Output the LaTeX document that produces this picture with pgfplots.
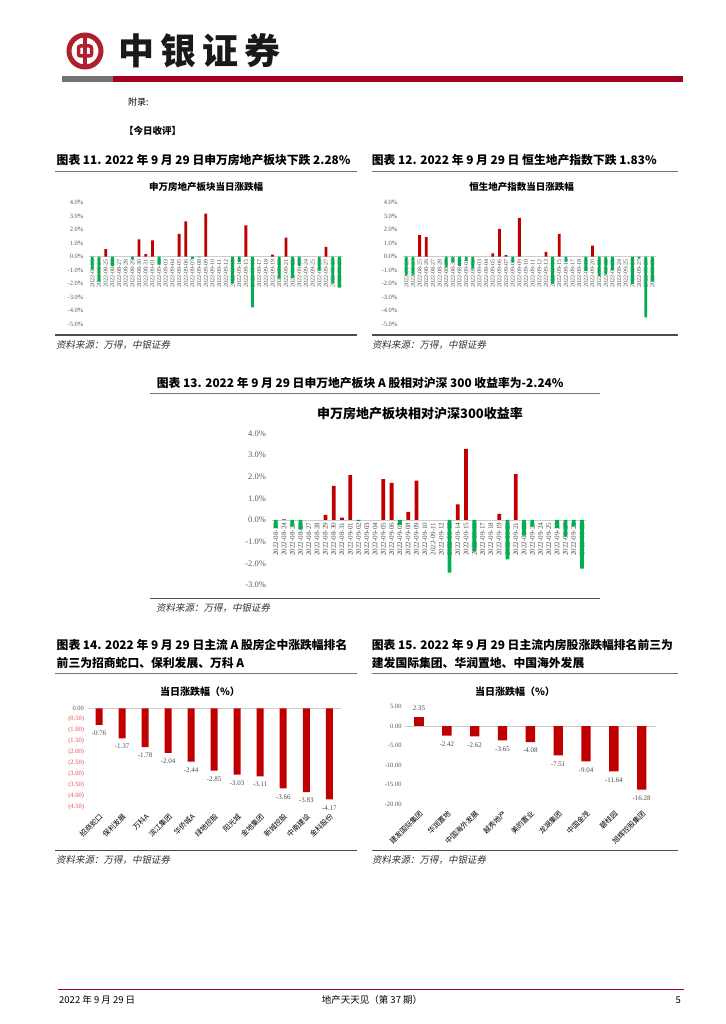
\documentclass[border=0pt]{standalone}
\usepackage{fontspec}
\setmainfont{Noto Sans CJK SC}
\newfontfamily\tnr{Liberation Serif}
\newfontfamily\cjkslant[FakeSlant=0.2]{Noto Sans CJK SC}
\usepackage{pgfplots}
\pgfplotsset{compat=1.18}
\definecolor{bred}{HTML}{C00000}
\definecolor{bgreen}{HTML}{00B050}
\definecolor{logored}{HTML}{B01F2E}
\definecolor{linered}{HTML}{A50021}
\definecolor{tickgray}{HTML}{595959}
\definecolor{tred}{HTML}{E8474A}
\newcommand\fs[1]{\fontsize{#1}{#1}\selectfont}
\pgfplotsset{
  daily/.style={
    ybar, scale only axis, clip=false, enlargelimits=false,
    axis x line=middle, axis y line=left,
    axis line style={-}, y axis line style={draw=none},
    x axis line style={draw=black!20, line width=0.7pt},
    tick style={draw=none},
    hide obscured x ticks=false, hide obscured y ticks=false,
    xmin=-0.5, xmax=37.5, xtick={0,...,37},
    xticklabels={2022-08-23,2022-08-24,2022-08-25,2022-08-26,2022-08-27,2022-08-28,2022-08-29,2022-08-30,2022-08-31,2022-09-01,2022-09-02,2022-09-03,2022-09-04,2022-09-05,2022-09-06,2022-09-07,2022-09-08,2022-09-09,2022-09-10,2022-09-11,2022-09-12,2022-09-13,2022-09-14,2022-09-15,2022-09-16,2022-09-17,2022-09-18,2022-09-19,2022-09-20,2022-09-21,2022-09-22,2022-09-23,2022-09-24,2022-09-25,2022-09-26,2022-09-27,2022-09-28,2022-09-29},
    xticklabel style={rotate=90, anchor=east, text=black!70, inner sep=0.6pt},
    yticklabel style={text=tickgray},
  },
  rank/.style={
    ybar, scale only axis, clip=false, enlargelimits=false,
    axis line style={draw=none}, tick style={draw=none},
    extra y ticks={0}, extra y tick labels={},
    extra y tick style={grid=major, major grid style={draw=black!20, line width=0.7pt}},
    xticklabel style={rotate=45, anchor=north east, font=\fs{7.2}, inner sep=1pt},
    yticklabel style={font=\tnr\fs{6.5}, text=tickgray},
    every node near coord/.append style={font=\tnr\fs{7}, text=black!70},
  },
  neglab/.style={every node near coord/.append style={anchor=north, yshift=-2.5pt}},
  poslab/.style={every node near coord/.append style={anchor=south, yshift=2.5pt}},
}
\begin{document}
\begin{tikzpicture}
\path[use as bounding box] (0pt,0pt) rectangle (725pt,-1024pt);
% ---------- page header ----------
\draw[logored, line width=5pt] (85pt,-51pt) circle (16pt);
\draw[logored, line width=3.5pt, rounded corners=2pt] (78.5pt,-46pt) rectangle (91.5pt,-56pt);
\draw[logored, line width=3.5pt] (85pt,-36pt) -- (85pt,-66pt);
\node[anchor=west, text=black!90, inner sep=0pt] at (118pt,-51pt) {\fs{36}\bfseries 中\hspace{6pt}银\hspace{6pt}证\hspace{6pt}券};
\fill[black!55] (62pt,-76.5pt) rectangle (113pt,-82pt);
\fill[linered] (113pt,-76.5pt) rectangle (683pt,-82pt);
\node[anchor=west, inner sep=0pt] at (128pt,-102pt) {\fs{9}附录:};
\node[anchor=west, inner sep=0pt] at (124pt,-131pt) {\fs{9.5}\bfseries 【今日收评】};
% ---------- chart 11 ----------
\node[anchor=west, inner sep=0pt] at (56.5pt,-160pt) {\fs{11.8}\bfseries 图表 11. 2022 年 9 月 29 日申万房地产板块下跌 2.28\%};
\draw[black!55, line width=0.7pt] (55pt,-171pt) -- (357pt,-171pt);
\node[inner sep=0pt] at (206pt,-187pt) {\fs{9.5}\bfseries 申万房地产板块当日涨跌幅};
\begin{axis}[daily, at={(89pt,-324.3pt)}, anchor=south west, width=253.7pt, height=121.6pt,
  ymin=-5, ymax=4, ytick={-5,...,4},
  yticklabels={-5.0\%,-4.0\%,-3.0\%,-2.0\%,-1.0\%,0.0\%,1.0\%,2.0\%,3.0\%,4.0\%},
  bar width=2.8pt, xticklabel style={font=\tnr\fs{6}}, yticklabel style={font=\tnr\fs{6.5}}]
\addplot[fill=bred, draw=none, bar shift=0pt] coordinates {(2,0.56) (7,1.29) (8,0.19) (9,1.21) (13,1.70) (14,2.62) (17,3.20) (23,2.33) (27,0.16) (29,1.42) (35,0.73)};
\addplot[fill=bgreen, draw=none, bar shift=0pt] coordinates {(0,-0.91) (1,-1.85) (3,-0.70) (6,-0.16) (10,-0.56) (15,-0.15) (16,-0.05) (21,-1.95) (22,-0.39) (24,-3.74) (28,-1.62) (30,-1.56) (31,-0.68) (34,-1.02) (36,-1.95) (37,-2.28)};
\end{axis}
\draw[black!70, line width=1.2pt] (55pt,-335pt) -- (357pt,-335pt);
\node[anchor=west, inner sep=0pt, text=black!80] at (56pt,-345pt) {\cjkslant\fs{9.5}资料来源：万得，中银证券};
% ---------- chart 12 ----------
\node[anchor=west, inner sep=0pt] at (371.7pt,-160pt) {\fs{11.8}\bfseries 图表 12. 2022 年 9 月 29 日 恒生地产指数下跌 1.83\%};
\draw[black!55, line width=0.7pt] (371.7pt,-171pt) -- (678pt,-171pt);
\node[inner sep=0pt] at (521.7pt,-187pt) {\fs{9.5}\bfseries 恒生地产指数当日涨跌幅};
\begin{axis}[daily, at={(403pt,-324.3pt)}, anchor=south west, width=252.7pt, height=121.6pt,
  ymin=-5, ymax=4, ytick={-5,...,4},
  yticklabels={-5.0\%,-4.0\%,-3.0\%,-2.0\%,-1.0\%,0.0\%,1.0\%,2.0\%,3.0\%,4.0\%},
  bar width=2.8pt, xticklabel style={font=\tnr\fs{6}}, yticklabel style={font=\tnr\fs{6.5}}]
\addplot[fill=bred, draw=none, bar shift=0pt] coordinates {(2,1.60) (3,1.45) (13,0.25) (14,2.07) (15,0.12) (17,2.87) (21,0.36) (23,1.70) (28,0.82)};
\addplot[fill=bgreen, draw=none, bar shift=0pt] coordinates {(0,-1.38) (1,-1.38) (6,-0.75) (7,-0.38) (8,-0.68) (9,-0.32) (10,-0.88) (16,-0.40) (22,-1.99) (24,-0.36) (27,-1.04) (29,-1.43) (30,-1.33) (31,-0.97) (34,-2.01) (35,-0.14) (36,-4.49) (37,-1.83)};
\end{axis}
\draw[black!70, line width=1.2pt] (371.7pt,-335pt) -- (678pt,-335pt);
\node[anchor=west, inner sep=0pt, text=black!80] at (372pt,-345pt) {\cjkslant\fs{9.5}资料来源：万得，中银证券};
% ---------- chart 13 ----------
\node[anchor=west, inner sep=0pt] at (156.7pt,-383.3pt) {\fs{11.8}\bfseries 图表 13. 2022 年 9 月 29 日申万地产板块 A 股相对沪深 300 收益率为-2.24\%};
\draw[black!55, line width=0.7pt] (150pt,-393.5pt) -- (600pt,-393.5pt);
\node[inner sep=0pt] at (420pt,-413.3pt) {\fs{13}\bfseries 申万房地产板块相对沪深300收益率};
\begin{axis}[daily, at={(271.6pt,-585pt)}, anchor=south west, width=314.5pt, height=151.7pt,
  ymin=-3, ymax=4, ytick={-3,...,4},
  yticklabels={-3.0\%,-2.0\%,-1.0\%,0.0\%,1.0\%,2.0\%,3.0\%,4.0\%},
  bar width=3.8pt, xticklabel style={font=\tnr\fs{7}}, yticklabel style={font=\tnr\fs{8.5}}]
\addplot[fill=bred, draw=none, bar shift=0pt] coordinates {(1,0.03) (6,0.24) (7,1.58) (8,0.11) (9,2.07) (13,1.89) (14,1.71) (16,0.37) (17,1.82) (22,0.72) (23,3.28) (27,0.28) (29,2.12)};
\addplot[fill=bgreen, draw=none, bar shift=0pt] coordinates {(0,-0.38) (2,-0.29) (3,-0.45) (10,-0.05) (15,-0.23) (21,-2.43) (24,-1.43) (28,-1.82) (30,-0.72) (31,-0.31) (34,-0.38) (35,-0.77) (36,-0.30) (37,-2.24)};
\end{axis}
\draw[black!70, line width=1.2pt] (150pt,-598.3pt) -- (600pt,-598.3pt);
\node[anchor=west, inner sep=0pt, text=black!80] at (156pt,-607.5pt) {\cjkslant\fs{9.5}资料来源：万得，中银证券};
% ---------- chart 14 ----------
\node[anchor=west, inner sep=0pt] at (56.5pt,-645pt) {\fs{11.8}\bfseries 图表 14. 2022 年 9 月 29 日主流 A 股房企中涨跌幅排名};
\node[anchor=west, inner sep=0pt] at (56.5pt,-663.3pt) {\fs{11.8}\bfseries 前三为招商蛇口、保利发展、万科 A};
\draw[black!55, line width=0.7pt] (55pt,-673.5pt) -- (357pt,-673.5pt);
\node[inner sep=0pt] at (200pt,-691.7pt) {\fs{10}\bfseries 当日涨跌幅（\%）};
\begin{axis}[rank, at={(87.5pt,-806.7pt)}, anchor=south west, width=253.3pt, height=98.4pt,
  xmin=-0.5, xmax=10.5, ymin=-4.5, ymax=0, ytick={-4.5,-4,...,0},
  yticklabels={\textcolor{tred}{(4.50)},\textcolor{tred}{(4.00)},\textcolor{tred}{(3.50)},\textcolor{tred}{(3.00)},\textcolor{tred}{(2.50)},\textcolor{tred}{(2.00)},\textcolor{tred}{(1.50)},\textcolor{tred}{(1.00)},\textcolor{tred}{(0.50)},0.00},
  xtick={0,...,10},
  xticklabels={招商蛇口,保利发展,万科A,滨江集团,华侨城A,绿地控股,阳光城,金地集团,新城控股,中南建设,金科股份},
  bar width=7pt]
\addplot[fill=bred, draw=none, bar shift=0pt, point meta=explicit symbolic, nodes near coords, neglab] coordinates {
  (0,-0.76) [-0.76] (1,-1.37) [-1.37] (2,-1.78) [-1.78] (3,-2.04) [-2.04] (4,-2.44) [-2.44]
  (5,-2.85) [-2.85] (6,-3.03) [-3.03] (7,-3.11) [-3.11] (8,-3.66) [-3.66] (9,-3.83) [-3.83] (10,-4.17) [-4.17]};
\end{axis}
\draw[black!70, line width=1.2pt] (55pt,-850.7pt) -- (357pt,-850.7pt);
\node[anchor=west, inner sep=0pt, text=black!80] at (56pt,-860pt) {\cjkslant\fs{9.5}资料来源：万得，中银证券};
% ---------- chart 15 ----------
\node[anchor=west, inner sep=0pt] at (371.7pt,-645pt) {\fs{11.8}\bfseries 图表 15. 2022 年 9 月 29 日主流内房股涨跌幅排名前三为};
\node[anchor=west, inner sep=0pt] at (371.7pt,-663.3pt) {\fs{11.8}\bfseries 建发国际集团、华润置地、中国海外发展};
\draw[black!55, line width=0.7pt] (371.7pt,-673.5pt) -- (678pt,-673.5pt);
\node[inner sep=0pt] at (515pt,-691.7pt) {\fs{10}\bfseries 当日涨跌幅（\%）};
\begin{axis}[rank, at={(405.1pt,-804pt)}, anchor=south west, width=250.5pt, height=97.3pt,
  xmin=-0.5, xmax=8.5, ymin=-20, ymax=5, ytick={-20,-15,...,5},
  yticklabels={-20.00,-15.00,-10.00,-5.00,0.00,5.00},
  xtick={0,...,8},
  xticklabels={建发国际集团,华润置地,中国海外发展,越秀地产,美的置业,龙湖集团,中国金茂,碧桂园,旭辉控股集团},
  bar width=9.3pt]
\addplot[fill=bred, draw=none, bar shift=0pt, point meta=explicit symbolic, nodes near coords, poslab] coordinates {(0,2.35) [2.35]};
\addplot[fill=bred, draw=none, bar shift=0pt, point meta=explicit symbolic, nodes near coords, neglab] coordinates {
  (1,-2.42) [-2.42] (2,-2.62) [-2.62] (3,-3.65) [-3.65] (4,-4.08) [-4.08] (5,-7.51) [-7.51]
  (6,-9.04) [-9.04] (7,-11.64) [-11.64] (8,-16.28) [-16.28]};
\end{axis}
\draw[black!70, line width=1.2pt] (371.7pt,-850.7pt) -- (678pt,-850.7pt);
\node[anchor=west, inner sep=0pt, text=black!80] at (372pt,-860pt) {\cjkslant\fs{9.5}资料来源：万得，中银证券};
% ---------- footer ----------
\draw[linered, line width=1pt] (58pt,-989pt) -- (684pt,-989pt);
\node[anchor=west, inner sep=0pt] at (59pt,-1000pt) {\fs{9.5}2022 年 9 月 29 日};
\node[inner sep=0pt] at (372pt,-1000pt) {\fs{9.5}地产天天见（第 37 期）};
\node[anchor=east, inner sep=0pt] at (681pt,-1000pt) {\fs{9.5}5};
\end{tikzpicture}
\end{document}
